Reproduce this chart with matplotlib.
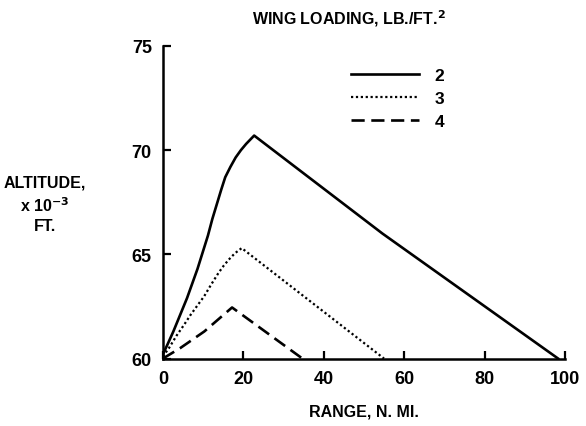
import matplotlib
matplotlib.use("Agg")
import matplotlib.pyplot as plt

plt.rcParams['font.family'] = ['Liberation Sans', 'DejaVu Sans']
plt.rcParams['font.weight'] = 'bold'

# Wing loading 2 lb/ft^2 (solid)
x2 = [0, 1.2, 2.6, 4.3, 6.0, 7.3, 8.6, 9.9, 11.2, 12.3, 13.4, 14.5, 15.5, 16.8, 18.1, 19.4, 20.7, 22.7, 54.6, 98.3]
y2 = [60.2, 60.7, 61.3, 62.1, 62.9, 63.6, 64.3, 65.1, 65.9, 66.7, 67.4, 68.1, 68.7, 69.2, 69.65, 70.0, 70.3, 70.7, 66.0, 60.0]
# Wing loading 3 lb/ft^2 (dotted)
x3 = [0, 1.5, 3.4, 5.2, 6.9, 8.6, 10.3, 12.0, 13.8, 15.1, 16.4, 17.9, 19.6, 55.0]
y3 = [60.1, 60.5, 61.1, 61.6, 62.1, 62.55, 63.0, 63.55, 64.1, 64.45, 64.75, 65.05, 65.3, 60.0]
# Wing loading 4 lb/ft^2 (dashed)
x4 = [0, 4.3, 10.3, 17.2, 34.7]
y4 = [60.0, 60.5, 61.3, 62.45, 60.0]

labels = ['2', '3', '4']
xticks = [0, 20, 40, 60, 80, 100]
yticks = [60, 65, 70, 75]

fig = plt.figure(figsize=(5.86, 4.27), dpi=100)
ax = fig.add_axes([0.278, 0.158, 0.686, 0.732])

lw = 1.9
ax.plot(x2, y2, color='black', lw=lw, linestyle='-', label=labels[0])
ax.plot(x3, y3, color='black', lw=1.6, linestyle=(0, (1, 1.2)), label=labels[1])
ax.plot(x4, y4, color='black', lw=lw, linestyle=(0, (5, 2.5)), label=labels[2])

ax.set_xlim(0, 100)
ax.set_ylim(60, 75)
ax.set_xticks(xticks)
ax.set_yticks(yticks)
ax.tick_params(direction='in', length=6, width=1.6, labelsize=13, pad=8)
for s in ['top', 'right']:
    ax.spines[s].set_visible(False)
for s in ['left', 'bottom']:
    ax.spines[s].set_linewidth(1.8)

ax.set_xlabel('RANGE, N. MI.', fontsize=11.5, fontweight='bold', labelpad=12)
fig.text(0.077, 0.52, 'ALTITUDE,\nx 10$^{\\mathbf{-3}}$\nFT.', fontsize=11.5, fontweight='bold',
         ha='center', va='center', linespacing=1.35)
fig.text(0.595, 0.957, 'WING LOADING, LB./FT.$^{\\mathbf{2}}$', fontsize=11.5, fontweight='bold',
         ha='center', va='center')

leg = ax.legend(frameon=False, loc='upper left', bbox_to_anchor=(0.43, 0.98),
                handlelength=3.9, handletextpad=0.9, labelspacing=0.45, fontsize=12.5)

fig.savefig('out.png', dpi=100)
